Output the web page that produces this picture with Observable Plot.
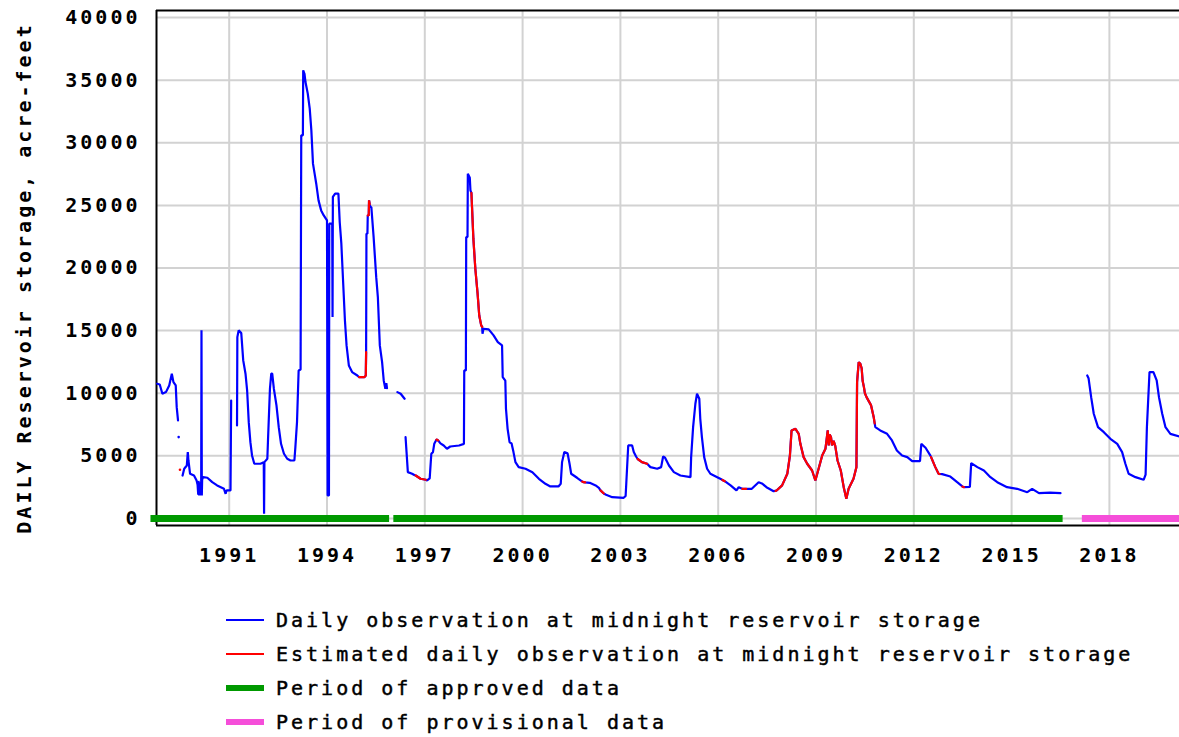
<!DOCTYPE html>
<html>
<head>
<meta charset="utf-8">
<script src="https://cdn.jsdelivr.net/npm/d3@7"></script>
<script src="https://cdn.jsdelivr.net/npm/@observablehq/plot@0.6"></script>
<style>
  body { margin: 0; background: #fff; }
  #legend { margin-left: 226px; margin-top: 23px; font-family: "DejaVu Sans Mono", monospace; font-size: 20px; letter-spacing: 3px; color: #000; -webkit-text-stroke: 0.45px #000; }
  .row { display: flex; align-items: center; height: 34px; white-space: nowrap; }
  .sw { width: 38px; margin-right: 12px; flex: none; }
</style>
</head>
<body>
<div id="chart"></div>
<div id="legend"></div>
<script>
// ---- data: [decimal year, storage in acre-feet, "A" observed / "E" estimated]; null = no record
const storage1989to1991 = [
  [1988.79,10760,"A"],[1988.87,10700,"A"],[1988.95,9960,"A"],[1989.06,10090,"A"],[1989.16,10620,"A"],
  [1989.24,11560,"A"],[1989.29,10890,"A"],[1989.36,10620,"A"],[1989.39,8890,"A"],[1989.43,7830,"A"],
  [1989.44,null,"A"],
  [1989.57,3430,"A"],[1989.62,3970,"A"],[1989.70,4230,"A"],[1989.73,5300,"A"],[1989.75,4630,"A"],
  [1989.80,3570,"A"],[1989.92,3430,"A"],[1990.00,3035,"A"],[1990.03,2700,"A"],[1990.05,1900,"A"],
  [1990.06,3000,"A"],[1990.08,1840,"A"],[1990.09,2900,"A"],[1990.11,1840,"A"],[1990.12,2800,"A"],
  [1990.14,1840,"A"],[1990.15,15020,"A"],[1990.16,1840,"A"],[1990.17,3100,"A"],[1990.20,3300,"A"],
  [1990.33,3250,"A"],[1990.48,2900,"A"],[1990.63,2640,"A"],[1990.84,2370,"A"],[1990.89,1970,"A"],
  [1990.92,2240,"A"],[1991.04,2240,"A"],[1991.06,9420,"A"],[1991.10,null,"A"]
];
const storage1991to1996 = [
  [1991.24,7430,"A"],[1991.25,14480,"A"],[1991.29,15020,"A"],[1991.37,14800,"A"],[1991.43,12620,"A"],
  [1991.50,11560,"A"],[1991.55,10220,"A"],[1991.60,7690,"A"],[1991.65,6090,"A"],[1991.70,5030,"A"],
  [1991.77,4370,"A"],[1991.96,4370,"A"],[1992.06,4500,"A"],[1992.07,375,"A"],[1992.08,4500,"A"],
  [1992.17,4770,"A"],[1992.19,6230,"A"],[1992.25,10360,"A"],[1992.29,11560,"A"],[1992.32,11560,"A"],
  [1992.37,10360,"A"],[1992.45,9030,"A"],[1992.52,7290,"A"],[1992.59,5965,"A"],[1992.68,5170,"A"],
  [1992.78,4770,"A"],[1992.88,4630,"A"],[1993.00,4630,"A"],[1993.03,5700,"A"],[1993.08,7690,"A"],
  [1993.13,11820,"A"],[1993.19,11900,"A"],[1993.21,30590,"A"],[1993.26,30590,"A"],[1993.27,35780,"A"],
  [1993.31,35500,"A"],[1993.34,34850,"A"],[1993.41,33920,"A"],[1993.47,32720,"A"],[1993.52,30990,"A"],
  [1993.57,28330,"A"],[1993.62,27530,"A"],[1993.67,26730,"A"],[1993.74,25400,"A"],[1993.82,24600,"A"],
  [1993.90,24200,"A"],[1994.00,23800,"A"],[1994.02,1840,"A"],[1994.06,1840,"A"],[1994.07,23540,"A"],
  [1994.16,23540,"A"],[1994.17,16080,"A"],[1994.18,25670,"A"],[1994.25,25940,"A"],[1994.35,25940,"A"],
  [1994.39,23670,"A"],[1994.44,21940,"A"],[1994.49,19140,"A"],[1994.55,15810,"A"],[1994.60,13820,"A"],
  [1994.67,12220,"A"],[1994.77,11690,"A"],[1994.93,11420,"A"],
  [1994.98,11290,"E"],[1995.15,11290,"E"],[1995.19,11420,"E"],[1995.20,13280,"E"],
  [1995.21,22740,"A"],[1995.24,22740,"A"],
  [1995.25,24200,"E"],[1995.28,24200,"E"],[1995.29,25400,"E"],[1995.31,25100,"E"],
  [1995.33,24870,"A"],[1995.36,24870,"A"],[1995.43,22470,"A"],[1995.51,19270,"A"],[1995.56,17680,"A"],
  [1995.62,13820,"A"],[1995.69,12480,"A"],[1995.74,11020,"A"],[1995.79,10360,"A"],[1995.82,10800,"A"],
  [1995.84,10400,"A"],[1995.86,null,"A"],
  [1996.16,10090,"A"],[1996.26,9960,"A"],[1996.38,9560,"A"],[1996.40,null,"A"]
];
const storage1996to2001 = [
  [1996.41,6490,"A"],[1996.44,5300,"A"],[1996.48,3700,"A"],[1996.61,3570,"A"],[1996.69,3450,"A"],
  [1996.72,3430,"E"],[1996.87,3170,"E"],[1997.03,3090,"E"],
  [1997.07,3035,"A"],[1997.15,3200,"A"],[1997.20,5170,"A"],[1997.25,5300,"A"],[1997.29,5960,"A"],
  [1997.36,6300,"E"],[1997.41,6230,"E"],
  [1997.48,6000,"A"],[1997.58,5830,"A"],[1997.68,5570,"A"],[1997.78,5750,"A"],[1998.05,5830,"A"],
  [1998.20,5960,"A"],[1998.21,11820,"A"],[1998.26,11820,"A"],[1998.27,22470,"A"],[1998.31,22470,"A"],
  [1998.32,27530,"A"],[1998.38,27200,"A"],[1998.40,26200,"A"],
  [1998.43,26000,"E"],[1998.49,22340,"E"],[1998.55,19940,"E"],[1998.62,17940,"E"],[1998.67,16210,"E"],
  [1998.73,15420,"E"],[1998.76,15300,"E"],
  [1998.77,14750,"A"],[1998.80,15150,"A"],[1998.96,15100,"A"],[1999.11,14620,"A"],[1999.24,14080,"A"],
  [1999.37,13820,"A"],[1999.39,11290,"A"],[1999.47,11000,"A"],[1999.49,8760,"A"],[1999.54,7160,"A"],
  [1999.60,6090,"A"],[1999.66,6000,"A"],[1999.72,5300,"A"],[1999.78,4500,"A"],[1999.88,4100,"A"],
  [2000.09,3970,"A"],[2000.30,3700,"A"],[2000.50,3170,"A"],[2000.70,2770,"A"],[2000.85,2560,"A"],
  [2001.10,2560,"A"],[2001.17,2770,"A"],[2001.21,4500,"A"],[2001.28,5300,"A"],[2001.38,5200,"A"],
  [2001.44,4370,"A"],[2001.49,3570,"A"],[2001.67,3250,"A"]
];
const storage2001to2007 = [
  [2001.83,2950,"E"],[2001.87,2900,"E"],[2001.92,2880,"E"],
  [2002.06,2850,"A"],[2002.24,2640,"A"],[2002.34,2450,"A"],
  [2002.39,2240,"E"],[2002.49,2000,"E"],
  [2002.56,1900,"A"],[2002.75,1700,"A"],[2003.10,1650,"A"],[2003.16,1800,"A"],[2003.18,2770,"A"],
  [2003.24,5830,"A"],[2003.36,5830,"A"],[2003.41,5300,"A"],[2003.48,4950,"A"],
  [2003.53,4750,"E"],[2003.66,4500,"E"],[2003.82,4370,"E"],
  [2003.92,4100,"A"],[2004.13,3970,"A"],[2004.25,4100,"A"],[2004.31,4950,"A"],[2004.37,4850,"A"],
  [2004.49,4230,"A"],[2004.64,3700,"A"],[2004.84,3430,"A"],[2005.15,3300,"A"],[2005.17,4900,"A"],
  [2005.23,7290,"A"],[2005.30,9160,"A"],[2005.35,9960,"A"],[2005.42,9560,"A"],[2005.45,7960,"A"],
  [2005.50,6490,"A"],[2005.57,4900,"A"],[2005.66,3970,"A"],[2005.76,3570,"A"],[2005.97,3300,"A"],
  [2006.08,3150,"A"],
  [2006.13,3080,"E"],[2006.20,2980,"E"],
  [2006.38,2640,"A"],[2006.56,2240,"A"],[2006.63,2500,"A"],[2006.70,2420,"A"],
  [2006.74,2370,"E"],[2006.86,2370,"E"],
  [2007.03,2370,"A"],[2007.24,2900,"A"],[2007.34,2800,"A"],[2007.48,2500,"A"],[2007.70,2180,"A"]
];
const storage2007to2016 = [
  [2007.76,2200,"E"],[2007.80,2250,"E"],[2007.96,2640,"E"],[2008.12,3570,"E"],[2008.20,5030,"E"],
  [2008.25,7030,"E"],[2008.37,7160,"E"],[2008.47,6760,"E"],[2008.52,5960,"E"],[2008.62,4900,"E"],
  [2008.73,4370,"E"],[2008.88,3830,"E"],[2008.98,3035,"E"],[2009.08,3970,"E"],[2009.19,5030,"E"],
  [2009.29,5570,"E"],[2009.36,7030,"E"],[2009.39,5830,"E"],[2009.42,6700,"E"],[2009.46,6490,"E"],
  [2009.49,5830,"E"],[2009.54,6200,"E"],[2009.59,5800,"E"],[2009.66,4630,"E"],[2009.76,3830,"E"],
  [2009.85,2500,"E"],[2009.93,1570,"E"],[2010.00,2370,"E"],[2010.15,3170,"E"],[2010.24,4100,"E"],
  [2010.26,10890,"E"],[2010.31,12480,"E"],[2010.36,12350,"E"],[2010.40,12000,"E"],[2010.43,11000,"E"],
  [2010.47,10490,"E"],[2010.50,10000,"E"],[2010.55,9690,"E"],[2010.69,9030,"E"],[2010.77,8090,"E"],
  [2010.80,7600,"E"],
  [2010.82,7290,"A"],[2010.97,7030,"A"],[2011.18,6760,"A"],[2011.33,6230,"A"],[2011.48,5430,"A"],
  [2011.64,5030,"A"],[2011.80,4900,"A"],[2011.95,4580,"A"],[2012.19,4580,"A"],[2012.23,5960,"A"],
  [2012.36,5650,"A"],[2012.49,5100,"A"],
  [2012.53,4900,"E"],[2012.66,4100,"E"],[2012.76,3570,"E"],[2012.79,3550,"E"],
  [2012.87,3540,"A"],[2013.12,3350,"A"],[2013.33,2900,"A"],[2013.45,2650,"A"],
  [2013.49,2550,"E"],[2013.54,2500,"E"],
  [2013.72,2520,"A"],[2013.76,4420,"A"],[2013.95,4100,"A"],[2014.15,3830,"A"],[2014.35,3300,"A"],
  [2014.56,2900,"A"],[2014.86,2500,"A"],[2015.17,2370,"A"],[2015.48,2100,"A"],[2015.63,2370,"A"],
  [2015.84,2020,"A"],[2016.18,2060,"A"],[2016.50,2020,"A"],[2016.52,null,"A"]
];
const storage2017to2020 = [
  [2017.32,11420,"A"],[2017.36,11200,"A"],[2017.44,9690,"A"],[2017.52,8360,"A"],[2017.65,7290,"A"],
  [2017.83,6890,"A"],[2018.03,6360,"A"],[2018.24,5960,"A"],[2018.39,5300,"A"],[2018.49,4370,"A"],
  [2018.59,3570,"A"],[2018.80,3300,"A"],[2019.05,3090,"A"],[2019.11,3500,"A"],[2019.15,7290,"A"],
  [2019.23,11690,"A"],[2019.35,11690,"A"],[2019.45,11020,"A"],[2019.52,9690,"A"],[2019.62,8360,"A"],
  [2019.72,7290,"A"],[2019.87,6760,"A"],[2020.15,6550,"A"]
];
const isolatedObserved = [[1989.45, 6500]];
const isolatedEstimated = [[1989.49, 3890]];
const approvedPeriods = [[1988.60, 1995.92], [1996.05, 2016.58]];
const provisionalPeriods = [[2017.17, 2020.6]];
const xTicks = [1991, 1994, 1997, 2000, 2003, 2006, 2009, 2012, 2015, 2018];
const yTicks = [0, 5000, 10000, 15000, 20000, 25000, 30000, 35000, 40000];
const yLabel = "DAILY Reservoir storage, acre-feet";
const legendItems = [
  {label: "Daily observation at midnight reservoir storage", color: "#0000ff", thick: 2},
  {label: "Estimated daily observation at midnight reservoir storage", color: "#ff0000", thick: 2},
  {label: "Period of approved data", color: "#009900", thick: 6},
  {label: "Period of provisional data", color: "#f54ed9", thick: 6}
];

const xDomain = [1988.77, 2020.15];
const yDomain = [-560, 40560];

const series = [].concat(storage1989to1991, storage1991to1996, storage1996to2001,
  storage2001to2007, storage2007to2016, storage2017to2020);

const chart = Plot.plot({
  width: 1179,
  height: 580,
  marginLeft: 156,
  marginRight: 0,
  marginTop: 10,
  marginBottom: 55,
  style: "font-family:'DejaVu Sans Mono',monospace;font-size:20px;font-weight:bold;letter-spacing:3px;background:white;overflow:visible;color:#000",
  x: {domain: xDomain, ticks: xTicks, tickFormat: d => String(d), tickSize: 0, tickPadding: 22, label: null},
  y: {domain: yDomain, ticks: yTicks, tickFormat: d => String(d), tickSize: 0, tickPadding: 16, label: null},
  marks: [
    Plot.ruleX(xTicks, {stroke: "#d2d2d2", strokeWidth: 2}),
    Plot.ruleY(yTicks, {stroke: "#d2d2d2", strokeWidth: 2}),
    Plot.ruleX([xDomain[0]], {stroke: "#000", strokeWidth: 2}),
    Plot.ruleY([yDomain[0], yDomain[1]], {stroke: "#000", strokeWidth: 2}),
    Plot.ruleY(approvedPeriods, {y: () => 0, x1: d => d[0], x2: d => d[1], stroke: "#009900", strokeWidth: 7}),
    Plot.ruleY(provisionalPeriods, {y: () => 0, x1: d => d[0], x2: d => d[1], stroke: "#f54ed9", strokeWidth: 7}),
    Plot.line(series, {x: d => d[0], y: d => (d[1] == null ? NaN : d[1]), stroke: "#0000ff", strokeWidth: 2.2, strokeLinejoin: "miter"}),
    Plot.line(series, {x: d => d[0], y: d => (d[1] != null && d[2] === "E" ? d[1] : NaN), stroke: "#ff0000", strokeWidth: 2.2, strokeLinejoin: "miter"}),
    Plot.dot(isolatedObserved, {x: d => d[0], y: d => d[1], r: 1.3, fill: "#0000ff", stroke: "none"}),
    Plot.dot(isolatedEstimated, {x: d => d[0], y: d => d[1], r: 1.3, fill: "#ff0000", stroke: "none"}),
    Plot.text([yLabel], {frameAnchor: "left", textAnchor: "middle", dx: -132, dy: 10, rotate: -90, fontSize: 20, fontWeight: "bold", fill: "#000"})
  ]
});
document.getElementById("chart").appendChild(chart);

const legend = document.getElementById("legend");
for (const item of legendItems) {
  const row = document.createElement("div");
  row.className = "row";
  const sw = document.createElement("div");
  sw.className = "sw";
  sw.style.height = item.thick + "px";
  sw.style.background = item.color;
  const tx = document.createElement("span");
  tx.textContent = item.label;
  row.appendChild(sw);
  row.appendChild(tx);
  legend.appendChild(row);
}
</script>
</body>
</html>
